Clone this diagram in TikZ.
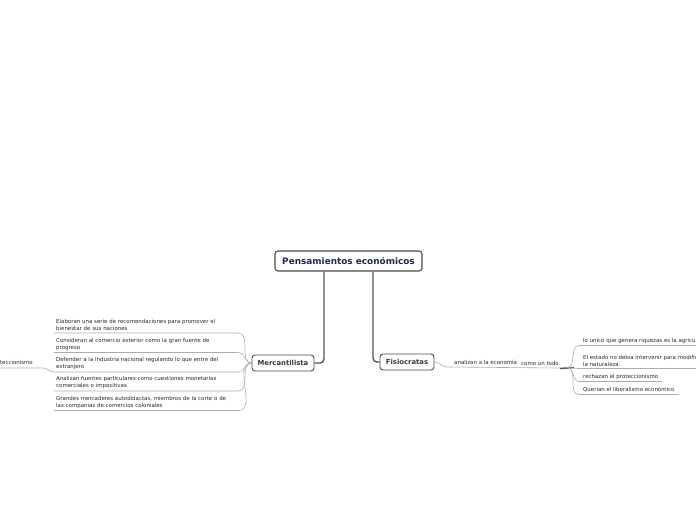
\documentclass[tikz,border=0pt]{standalone}
\usepackage{fontspec}
\setmainfont{DejaVu Sans}
\definecolor{navy}{HTML}{1C2A4E}
\definecolor{boxgray}{HTML}{4A4A4A}
\definecolor{textgray}{HTML}{3A3A3A}
\definecolor{trunkgray}{HTML}{555555}
\definecolor{twiggray}{HTML}{ADADAD}
\begin{document}
\begin{tikzpicture}[x=1pt,y=-1pt,
  rootbox/.style={draw=boxgray,line width=1.1pt,rounded corners=3pt,fill=white,
    font=\fontsize{8.9}{10}\selectfont\bfseries,text=navy,minimum width=147pt,minimum height=20pt,inner sep=0pt},
  mainbox/.style={draw=boxgray,line width=0.9pt,rounded corners=3pt,fill=white,
    font=\fontsize{6.85}{8}\selectfont\bfseries,text=textgray,minimum height=16pt,inner sep=0pt},
  item/.style={font=\fontsize{5.45}{7}\selectfont,text=black!85,align=left,inner xsep=2pt,inner ysep=2pt,anchor=south west},
  trunk/.style={draw=trunkgray,line width=1.4pt,rounded corners=4pt},
  twig/.style={draw=twiggray,line width=0.6pt},
  junction/.style={draw=trunkgray,line width=1.5pt}]
\useasboundingbox (0,0) rectangle (696,520);
\clip (0,0) rectangle (696,520);

% main nodes
\node[rootbox] (root) at (348.5,261) {Pensamientos económicos};
\node[mainbox,minimum width=62pt] (merc) at (283,363) {Mercantilista};
\node[mainbox,minimum width=54pt] (fisio) at (407,362) {Fisiocratas};

\draw[trunk] ([xshift=-24.5pt]root.south) |- (merc.east);
\draw[trunk] ([xshift=24.5pt]root.south) |- (fisio.west);

% Mercantilista items
\node[item,text width=180pt] (m1) at (54,333) {Elaboran una serie de recomendaciones para promover el\\bienestar de sus naciones};
\node[item,text width=180pt] (m2) at (54,352.5) {Consideran al comercio exterior como la gran fuente de\\progreso};
\node[item,text width=180pt] (m3) at (54,372) {Defender a la industria nacional regulando lo que entre del\\extranjero};
\node[item,text width=180pt] (m4) at (54,391) {Analizan fuentes particulares como cuestiones monetarias\\comerciales o impositivas};
\node[item,text width=180pt] (m5) at (54,410.5) {Grandes mercaderes autodidactas, miembros de la corte o de\\las companias de comercios coloniales};

\foreach \m in {m1,m2,m3,m4,m5}{
  \draw[twig] (merc.west) to[out=180,in=0] (\m.south east) -- (\m.south west);
}

\node[item,anchor=south east] (prot) at (35,368) {proteccionismo};
\draw[twig] (prot.south west) -- ([xshift=8pt]prot.south east) to[out=0,in=180] (m3.south west);

% Fisiocratas branch
\node[item] (an) at (452,367) {analizan a la economía};
\node[item,inner xsep=1pt] (todo) at (520,368) {como un todo};
\coordinate (J) at (574,367.5);
\coordinate (Jb) at (567,367.5);
\draw[twig] (fisio.east) to[out=0,in=180] ([xshift=-5pt]an.south west) -- (todo.south east);
\draw[junction] ([yshift=-0.5pt]todo.south east) -- (J);

\node[item,inner xsep=4pt] (f1) at (579,345.5) {lo unico que genera riquezas es la agricultura};
\node[item,inner xsep=4pt] (f2) at (579,368.5) {El estado no debia intervenir para modificar\\la naturaleza.};
\node[item,inner xsep=4pt] (f3) at (579,381.5) {rechazan el proteccionismo};
\node[item,inner xsep=4pt] (f4) at (579,394.5) {Querian el liberalismo económico};

\foreach \f in {f1,f2,f3,f4}{
  \draw[twig] (Jb) to[out=0,in=180] (\f.south west) -- (\f.south east);
}
\end{tikzpicture}
\end{document}
